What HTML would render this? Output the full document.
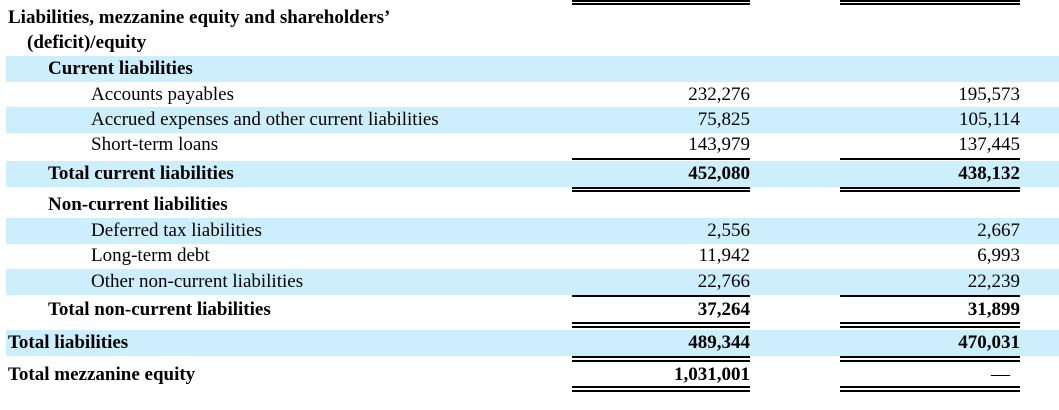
<!DOCTYPE html>
<html><head><meta charset="utf-8"><style>
body{margin:0;width:1059px;height:410px;background:#fff;position:relative;overflow:hidden;font-family:"Liberation Serif",serif;color:#000}
.band{position:absolute;left:6px;right:0;height:26px;background:#cdeefc}
.t{position:absolute;font-size:19px;line-height:24px;white-space:nowrap}
.b{font-weight:bold}
.v{position:absolute;font-size:19px;line-height:24px;text-align:right;white-space:nowrap}
.c1{left:560px;width:190px}
.c2{left:830px;width:190px}
.l{position:absolute;height:0;border-top:2px solid #000}
.l1{left:572px;width:178px}.l2{left:840px;width:180px}
</style></head><body>
<div class="band" style="top:56px"></div>
<div class="band" style="top:107px"></div>
<div class="band" style="top:161px"></div>
<div class="band" style="top:218px"></div>
<div class="band" style="top:269px"></div>
<div class="band" style="top:330px"></div>

<div class="l l1" style="top:0px"></div>
<div class="l l1" style="top:3px"></div>
<div class="l l2" style="top:0px"></div>
<div class="l l2" style="top:3px"></div>

<div class="t b" style="left:8px;top:6px">Liabilities, mezzanine equity and shareholders’</div>
<div class="t b" style="left:27px;top:31px">(deficit)/equity</div>
<div class="t b" style="left:48px;top:57px">Current liabilities</div>

<div class="t" style="left:91px;top:83px">Accounts payables</div>
<div class="v c1" style="top:83px">232,276</div>
<div class="v c2" style="top:83px">195,573</div>

<div class="t" style="left:91px;top:108px">Accrued expenses and other current liabilities</div>
<div class="v c1" style="top:108px">75,825</div>
<div class="v c2" style="top:108px">105,114</div>

<div class="t" style="left:91px;top:133px">Short-term loans</div>
<div class="v c1" style="top:133px">143,979</div>
<div class="v c2" style="top:133px">137,445</div>
<div class="l l1" style="top:158px"></div>
<div class="l l2" style="top:158px"></div>

<div class="t b" style="left:48px;top:162px">Total current liabilities</div>
<div class="v c1 b" style="top:162px">452,080</div>
<div class="v c2 b" style="top:162px">438,132</div>
<div class="l l1" style="top:187px"></div>
<div class="l l1" style="top:190px"></div>
<div class="l l2" style="top:187px"></div>
<div class="l l2" style="top:190px"></div>

<div class="t b" style="left:48px;top:193px">Non-current liabilities</div>

<div class="t" style="left:91px;top:219px">Deferred tax liabilities</div>
<div class="v c1" style="top:219px">2,556</div>
<div class="v c2" style="top:219px">2,667</div>

<div class="t" style="left:91px;top:244px">Long-term debt</div>
<div class="v c1" style="top:244px">11,942</div>
<div class="v c2" style="top:244px">6,993</div>

<div class="t" style="left:91px;top:270px">Other non-current liabilities</div>
<div class="v c1" style="top:270px">22,766</div>
<div class="v c2" style="top:270px">22,239</div>
<div class="l l1" style="top:295px"></div>
<div class="l l2" style="top:295px"></div>

<div class="t b" style="left:48px;top:298px">Total non-current liabilities</div>
<div class="v c1 b" style="top:298px">37,264</div>
<div class="v c2 b" style="top:298px">31,899</div>
<div class="l l1" style="top:322px"></div>
<div class="l l1" style="top:326px"></div>
<div class="l l2" style="top:322px"></div>
<div class="l l2" style="top:326px"></div>

<div class="t b" style="left:8px;top:331px">Total liabilities</div>
<div class="v c1 b" style="top:331px">489,344</div>
<div class="v c2 b" style="top:331px">470,031</div>
<div class="l l1" style="top:356px"></div>
<div class="l l1" style="top:360px"></div>
<div class="l l2" style="top:356px"></div>
<div class="l l2" style="top:360px"></div>

<div class="t b" style="left:8px;top:363px">Total mezzanine equity</div>
<div class="v c1 b" style="top:363px">1,031,001</div>
<div class="v c2" style="top:363px;width:180px">—</div>
<div class="l l1" style="top:386px"></div>
<div class="l l1" style="top:390px"></div>
<div class="l l2" style="top:386px"></div>
<div class="l l2" style="top:390px"></div>
</body></html>
